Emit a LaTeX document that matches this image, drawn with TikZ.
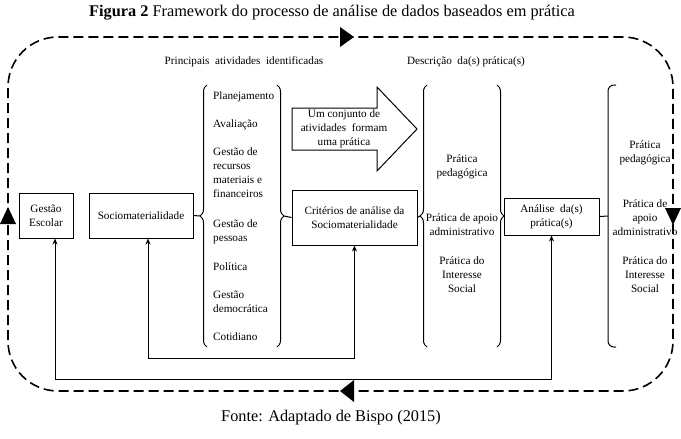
\documentclass[tikz,border=0pt]{standalone}
\usepackage{fontspec}
\setmainfont{Liberation Serif}
\usetikzlibrary{arrows.meta,decorations.pathreplacing}

\begin{document}
\begin{tikzpicture}[x=1pt,y=-1pt,
    box/.style={draw,line width=1pt,align=center,inner sep=2pt,font=\fontsize{11.2}{14}\selectfont},
    txt/.style={align=center,inner sep=0pt,font=\fontsize{11.2}{14}\selectfont},
    curly/.style={decorate,decoration={brace,amplitude=7pt},line width=1pt},
    feedback/.style={line width=1pt,{Stealth[length=6pt,width=5pt]}-{Stealth[length=6pt,width=5pt]}},
    loopline/.style={line width=1.6pt,dash pattern=on 10pt off 5pt,rounded corners=50pt}]
    \useasboundingbox (0,0) rectangle (681,439);

    % Title and source
    \node[font=\fontsize{16.3}{19}\selectfont] (title) at (332,13) {\textbf{Figura 2} Framework do processo de análise de dados baseados em prática};
    \node[font=\fontsize{16.3}{19}\selectfont] (fonte) at (331,418) {Fonte: Adaptado de Bispo (2015)};

    % Dashed cycle
    \draw[loopline] (8,218) |- (340,37) -| (673,216) |- (340,391) -| (8,218);
    \fill (340,27) -- (354,37) -- (340,47) -- cycle;
    \fill (354,380) -- (340,391) -- (354,402) -- cycle;
    \fill (0,224) -- (8,207) -- (16,224) -- cycle;
    \fill (665,208) -- (681,208) -- (673,225) -- cycle;

    % Column headings
    \node[txt] (hativ) at (244,62) {Principais \ atividades \ identificadas};
    \node[txt] (hdesc) at (466,62) {Descrição \ da(s) prática(s)};

    % Boxes
    \node[box,minimum width=54pt,minimum height=45pt] (ges) at (46,215.5) {Gestão\\Escolar};
    \node[box,minimum width=104pt,minimum height=45pt] (soc) at (141,215.5) {Sociomaterialidade};
    \node[box,minimum width=125pt,minimum height=55pt] (crit) at (354.5,217.5) {Critérios de análise da\\Sociomaterialidade};
    \node[box,minimum width=95pt,minimum height=37pt] (ana) at (551.5,216.5) {Análise \ da(s)\\prática(s)};

    % Activities
    \draw[curly] (207,347) -- (207,85);
    \draw[curly] (277,85) -- (277,347);
    \coordinate (b1in) at (200,216);
    \coordinate (b1out) at (284,216);
    \node[txt,align=left,anchor=north west] (ativ) at (213,92) {Planejamento\\[14pt]
        Avaliação\\[14pt]
        Gestão de\\recursos\\materiais e\\financeiros\\[16pt]
        Gestão de\\pessoas\\[15pt]
        Política\\[14pt]
        Gestão\\democrática\\[14pt]
        Cotidiano};

    % Big arrow
    \draw[line width=1pt] (292,108) -- (377,108) -- (377,87) -- (417,129) -- (377,171) -- (377,150) -- (292,150) -- cycle;
    \node[txt] (conj) at (344,129) {Um conjunto de\\atividades \ formam\\uma prática};

    % Practices
    \draw[curly] (427,347) -- (427,85);
    \draw[curly] (497,85) -- (497,347);
    \coordinate (b2in) at (420,216);
    \coordinate (b2out) at (504,216);
    \node[txt] (ped1) at (462,167) {Prática\\pedagógica};
    \node[txt] (apo1) at (462,225) {Prática de apoio\\administrativo};
    \node[txt] (soc1) at (462,275) {Prática do\\Interesse\\Social};

    \draw[line width=1pt,rounded corners=6pt] (616,85) -| (608,347) -- (616,347);
    \coordinate (b3in) at (608,216);
    \node[txt] (ped2) at (645,153) {Prática\\pedagógica};
    \node[txt] (apo2) at (645,218) {Prática de\\apoio\\administrativo};
    \node[txt] (soc2) at (645,275) {Prática do\\Interesse\\Social};

    % Links
    \draw[line width=1pt] (soc.east) -- (b1in);
    \draw[line width=1pt] (b1out) -- (crit.west);
    \draw[line width=1pt] (crit.east) -- (b2in);
    \draw[line width=1pt] (b2out) -- (ana.west);
    \draw[line width=1pt] (ana.east) -- (b3in);

    % Feedback
    \draw[feedback] ([xshift=9pt]ges.south) -- ++(0,141) -| (ana.south);
    \draw[feedback] ([xshift=7pt]soc.south) -- ++(0,120) -| (crit.south);
\end{tikzpicture}
\end{document}
